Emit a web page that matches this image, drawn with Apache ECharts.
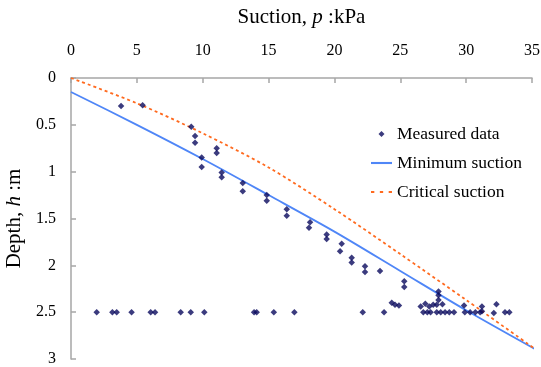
<!DOCTYPE html>
<html>
<head>
<meta charset="utf-8">
<script src="https://cdn.jsdelivr.net/npm/echarts@6/dist/echarts.min.js"></script>
<style>
html,body{margin:0;padding:0;background:#fff;}
#chart{width:541px;height:367px;}
</style>
</head>
<body>
<div id="chart"></div>
<script>
// Measured data: suction p (kPa) and depth h (m)
var measuredP = [3.8,5.44,9.13,9.42,9.42,9.92,9.92,11.06,11.06,11.44,11.44,13.04,13.04,14.86,14.86,16.38,16.38,18.15,18.07,19.41,19.41,20.55,20.43,21.31,21.31,22.32,22.32,23.46,25.3,25.3,24.35,24.6,24.9,26.55,26.9,27.2,27.5,27.9,27.9,27.9,27.77,28.2,29.84,31.2,32.3,
  1.95,3.14,3.47,4.6,6.05,6.38,8.33,9.09,10.12,13.9,14.1,15.4,16.96,22.15,23.77,26.75,27.05,27.3,27.77,28.07,28.4,28.72,29.08,29.9,30.3,30.7,31.06,31.2,32.1,32.95,33.28];
var measuredH = [0.30,0.29,0.52,0.62,0.69,0.85,0.95,0.75,0.80,1.01,1.06,1.12,1.21,1.25,1.31,1.40,1.47,1.54,1.60,1.67,1.72,1.77,1.85,1.92,1.97,2.01,2.07,2.06,2.17,2.23,2.40,2.42,2.43,2.44,2.41,2.44,2.42,2.28,2.32,2.37,2.42,2.415,2.43,2.44,2.415,
  2.5,2.5,2.5,2.5,2.5,2.5,2.5,2.5,2.5,2.5,2.5,2.5,2.5,2.5,2.5,2.5,2.5,2.5,2.5,2.5,2.5,2.5,2.5,2.5,2.5,2.5,2.5,2.49,2.51,2.5,2.5];

// Minimum suction curve
var minP = [0,5,10,15,20,25,30,35.3];
var minH = [0.15,0.50,0.865,1.25,1.64,2.06,2.48,2.9];

// Critical suction curve
var critP = [0,5,10,15,20,25,30,35.3];
var critH = [0,0.27,0.59,0.955,1.40,1.88,2.37,2.9];

var xTicks = [0,5,10,15,20,25,30,35];
var yTicks = [0,0.5,1,1.5,2,2.5,3];

function zip(a,b){var r=[];for(var i=0;i<a.length;i++)r.push([a[i],b[i]]);return r;}

var serif = '"Liberation Serif","Times New Roman",serif';
var chart = echarts.init(document.getElementById('chart'), null, {renderer:'canvas'});
chart.setOption({
  animation:false,
  backgroundColor:'#fff',
  grid:{left:71, top:78, right:9, bottom:8, containLabel:false, outerBoundsMode:'none'},
  legend:{
    orient:'vertical', left:366, top:120, itemGap:11, itemWidth:21, itemHeight:6,
    symbolKeepAspect:true,
    textStyle:{fontFamily:serif, fontSize:17.5, color:'#000'},
    data:[
      {name:'Measured data', icon:'path://M3,0L6,3L3,6L0,3Z', itemStyle:{color:'#0a0a5e'}},
      {name:'Minimum suction', icon:'path://M0,0H20V2H0Z', itemStyle:{color:'#4f86f7'}},
      {name:'Critical suction', icon:'path://M0,0H3V2H0Z M8,0H11V2H8Z M16,0H19V2H16Z', itemStyle:{color:'#ff6a1f'}}
    ]
  },
  xAxis:{
    type:'value', position:'top', min:0, max:xTicks[xTicks.length-1], interval:5,
    name:'{a|Suction, }{i|p}{a| :kPa}', nameLocation:'middle', nameGap:50,
    nameTextStyle:{rich:{a:{fontFamily:serif,fontSize:21,color:'#000'},i:{fontFamily:serif,fontSize:21,fontStyle:'italic',color:'#000'}}},
    axisLine:{show:true, lineStyle:{color:'#a6a6a6', width:1.5}},
    axisTick:{show:true, inside:true, length:5, lineStyle:{color:'#a6a6a6', width:1.5}},
    axisLabel:{fontFamily:serif, fontSize:16, color:'#000', margin:19,
      formatter:function(v){return xTicks.indexOf(v)>=0?String(v):'';}},
    splitLine:{show:false}
  },
  yAxis:{
    type:'value', inverse:true, min:0, max:yTicks[yTicks.length-1], interval:0.5,
    name:'{a|Depth, }{i|h}{a| :m}', nameLocation:'middle', nameGap:41, nameRotate:90,
    nameTextStyle:{rich:{a:{fontFamily:serif,fontSize:21,color:'#000'},i:{fontFamily:serif,fontSize:21,fontStyle:'italic',color:'#000'}}},
    axisLine:{show:true, lineStyle:{color:'#a6a6a6', width:1.5}},
    axisTick:{show:true, inside:true, length:5, lineStyle:{color:'#a6a6a6', width:1.5}},
    axisLabel:{fontFamily:serif, fontSize:16, color:'#000', margin:15,
      formatter:function(v){return yTicks.indexOf(v)>=0?String(v):'';}},
    splitLine:{show:false}
  },
  series:[
    {name:'Measured data', type:'scatter', data:zip(measuredP,measuredH),
     symbol:'diamond', symbolSize:6.5, itemStyle:{color:'#0a0a5e'}, z:5},
    {name:'Minimum suction', type:'line', data:zip(minP,minH), smooth:0.3,
     symbol:'none', clip:false, lineStyle:{color:'#4f86f7', width:1.8}, itemStyle:{color:'#4f86f7'}},
    {name:'Critical suction', type:'line', data:zip(critP,critH), smooth:0.3,
     symbol:'none', clip:false, lineStyle:{color:'#ff6a1f', width:1.8, type:[3,3]}, itemStyle:{color:'#ff6a1f'}}
  ]
});
</script>
</body>
</html>
